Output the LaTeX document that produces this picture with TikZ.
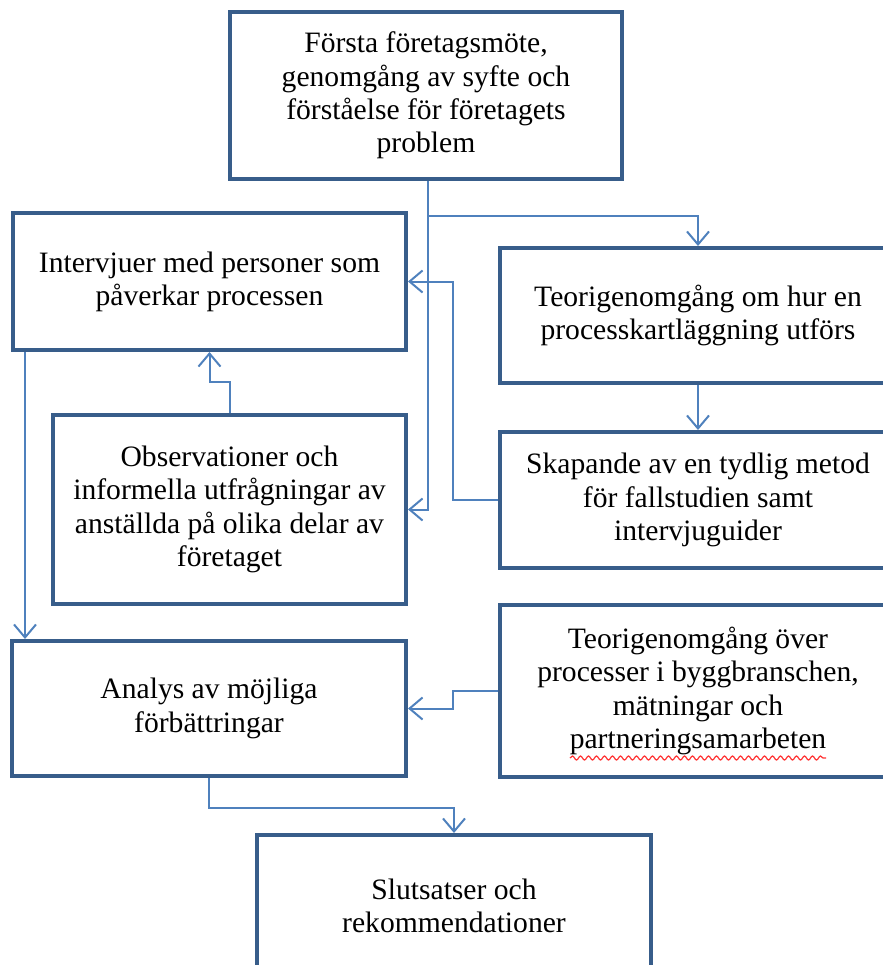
\documentclass[tikz,border=0pt]{standalone}
\usepackage{fontspec}
\setmainfont{Liberation Serif}
\usetikzlibrary{arrows.meta,positioning,decorations.pathmorphing}
\definecolor{boxblue}{RGB}{56,93,138}
\definecolor{lineblue}{RGB}{79,129,189}

\begin{document}
\begin{tikzpicture}
          [x=0.5pt,y=-0.5pt,
            every node/.style={rectangle,draw=boxblue,line width=2pt,align=center,
              inner sep=0pt,font=\fontsize{14.8}{16.6}\selectfont},
            conn/.style={draw=lineblue,line width=1pt,
              -{Straight Barb[length=6.5pt,width=11pt,line width=1pt]}}]
          \useasboundingbox (0,0) rectangle (883,965);
          \clip (0,0) rectangle (883,965);
          \node[minimum width=196pt,minimum height=83.5pt] (forsta) at (426,95.5)
            {Första företagsmöte,\\genomgång av syfte och\\förståelse för företagets\\problem};
          \node[minimum width=196.5pt,minimum height=68.5pt] (interv) at (209.5,281.5)
            {Intervjuer med personer som\\påverkar processen};
          \node[minimum width=198pt,minimum height=67.5pt] (teori) at (698,315.5)
            {Teorigenomgång om hur en\\processkartläggning utförs};
          \node[minimum width=176.5pt,minimum height=94.5pt] (obs) at (229.5,509.5)
            {Observationer och\\informella utfrågningar av\\anställda på olika delar av\\företaget};
          \node[minimum width=198pt,minimum height=68pt] (skap) at (698,500)
            {Skapande av en tydlig metod\\för fallstudien samt\\intervjuguider};
          \node[minimum width=197pt,minimum height=67.5pt] (analys) at (209,708.5)
            {Analys av möjliga\\förbättringar};
          \node[minimum width=198pt,minimum height=86pt] (teoriover) at (698,691)
            {Teorigenomgång över\\processer i byggbranschen,\\mätningar och\\partneringsamarbeten};
          \node[minimum width=197pt,minimum height=71pt] (slut) at (454,906)
            {Slutsatser och\\rekommendationer};
          % connectors
          \draw[conn] ([xshift=1pt]forsta.south) -- ++(0,35) -| (teori.north);
          \draw[conn] ([xshift=1pt]forsta.south) |- (obs.east);
          \draw[conn] (teori.south) -- (skap.north);
          \draw[conn] (skap.west) -- ++(-45,0) |- (interv.east);
          \draw[conn] (obs.north) -- ++(0,-31) -| (interv.south);
          \draw[conn] ([xshift=7pt]interv.south west) -- ([xshift=7pt]interv.south west |- analys.north);
          \draw[conn] (teoriover.west) -- ++(-45,0) |- (analys.east);
          \draw[conn] (analys.south) -- ++(0,30) -| (slut.north);
          % spelling mark
          \draw[red!80!white,line width=0.6pt,decorate,
            decoration={snake,amplitude=1pt,segment length=4pt}] (570,758) -- (826,758);
        \end{tikzpicture}
\end{document}
